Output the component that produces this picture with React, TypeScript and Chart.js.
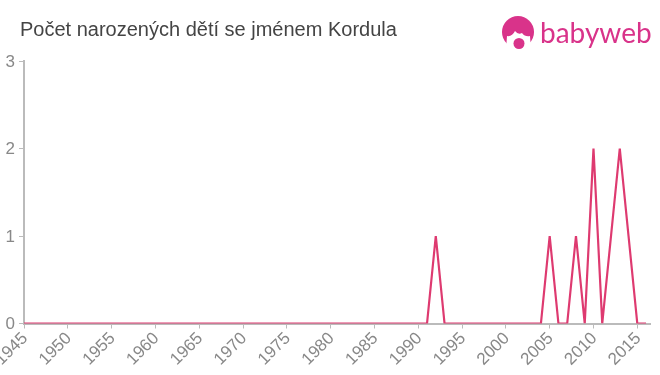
import React, { useEffect, useRef } from "react";
import { Chart, registerables } from "chart.js";

Chart.register(...registerables);

const years = [
  1945, 1946, 1947, 1948, 1949, 1950, 1951, 1952, 1953, 1954, 1955, 1956, 1957, 1958, 1959, 1960, 1961, 1962,
  1963, 1964, 1965, 1966, 1967, 1968, 1969, 1970, 1971, 1972, 1973, 1974, 1975, 1976, 1977, 1978, 1979, 1980,
  1981, 1982, 1983, 1984, 1985, 1986, 1987, 1988, 1989, 1990, 1991, 1992, 1993, 1994, 1995, 1996, 1997, 1998,
  1999, 2000, 2001, 2002, 2003, 2004, 2005, 2006, 2007, 2008, 2009, 2010, 2011, 2012, 2013, 2014, 2015, 2016,
];
const births = [
  0, 0, 0, 0, 0, 0, 0, 0, 0, 0, 0, 0, 0, 0, 0, 0, 0, 0,
  0, 0, 0, 0, 0, 0, 0, 0, 0, 0, 0, 0, 0, 0, 0, 0, 0, 0,
  0, 0, 0, 0, 0, 0, 0, 0, 0, 0, 0, 1, 0, 0, 0, 0, 0, 0,
  0, 0, 0, 0, 0, 0, 1, 0, 0, 1, 0, 2, 0, 1, 2, 1, 0, 0,
];
const xTicks = [1945, 1950, 1955, 1960, 1965, 1970, 1975, 1980, 1985, 1990, 1995, 2000, 2005, 2010, 2015];
const yTicks = [0, 1, 2, 3];
const titleText = "Počet narozených dětí se jménem Kordula";
const logoText = "babyweb";

const FONT = '"Liberation Sans", Arial, sans-serif';
const LINE = "#de3a70";
const AXIS = "#bbbbbb";
const LABEL = "#888888";
const PINK = "#d9338a";

const headerPlugin = {
  id: "header",
  afterDraw(chart: any) {
    const c = chart.ctx;
    c.save();
    c.fillStyle = "#444444";
    c.font = `20px ${FONT}`;
    c.textAlign = "left";
    c.textBaseline = "middle";
    c.fillText(titleText, 20, 30.5);

    c.fillStyle = PINK;
    c.beginPath();
    c.arc(518, 32, 16, 0, Math.PI * 2);
    c.fill();
    c.fillStyle = "#ffffff";
    c.beginPath();
    c.moveTo(506, 50);
    c.lineTo(507, 36);
    c.quadraticCurveTo(512, 37, 515, 31);
    c.quadraticCurveTo(518, 35, 522, 33);
    c.quadraticCurveTo(525, 37, 530, 36);
    c.lineTo(531, 50);
    c.closePath();
    c.fill();
    c.fillStyle = PINK;
    c.beginPath();
    c.arc(519, 43.5, 5.5, 0, Math.PI * 2);
    c.fill();

    c.font = `28px Lato, "Open Sans", sans-serif`;
    c.textBaseline = "alphabetic";
    c.fillText(logoText, 540, 43);
    c.restore();
  },
};

export default function App() {
  const ref = useRef<HTMLCanvasElement>(null);
  useEffect(() => {
    const chart = new Chart(ref.current!, {
      type: "line",
      data: {
        datasets: [
          {
            data: years.map((y, i) => ({ x: y, y: births[i] })),
            borderColor: LINE,
            borderWidth: 2.2,
            borderJoinStyle: "bevel",
            clip: { left: 5, right: 5, top: 5, bottom: 0 },
            pointRadius: 0,
            tension: 0,
            fill: false,
          },
        ],
      },
      plugins: [headerPlugin],
      options: {
        animation: false,
        responsive: false,
        events: [],
        layout: { padding: { top: 61, right: 10, left: 0, bottom: 0 } },
        plugins: { legend: { display: false }, title: { display: false }, tooltip: { enabled: false } },
        scales: {
          x: {
            type: "linear",
            min: 1945,
            max: 2016.45,
            afterBuildTicks(s: any) {
              s.ticks = xTicks.map((value) => ({ value }));
            },
            afterFit(s: any) {
              s.height = 51.5;
              s.paddingLeft = 0;
              s.paddingRight = 0;
            },
            grid: { drawOnChartArea: false, color: AXIS, tickLength: 5 },
            border: { color: AXIS, width: 2 },
            ticks: {
              color: LABEL,
              font: { family: FONT, size: 17 },
              minRotation: 45,
              maxRotation: 45,
              autoSkip: false,
              padding: 0,
              labelOffset: 1,
              callback: (v: any) => String(v),
            },
          },
          y: {
            min: 0,
            max: 3,
            afterBuildTicks(s: any) {
              s.ticks = yTicks.map((value) => ({ value }));
            },
            afterFit(s: any) {
              s.width = 24;
              s.paddingTop = 0;
              s.paddingBottom = 0;
            },
            grid: { drawOnChartArea: false, color: AXIS, tickLength: 5 },
            border: { color: AXIS, width: 2 },
            ticks: {
              color: LABEL,
              font: { family: FONT, size: 17 },
              padding: 4,
              labelOffset: 1,
              callback: (v: any) => String(v),
            },
          },
        },
      },
    } as any);
    return () => chart.destroy();
  }, []);
  return (
    <div style={{ position: "absolute", left: 0, top: 0, width: 660, height: 375 }}>
      <canvas ref={ref} width={660} height={375} style={{ display: "block" }} />
    </div>
  );
}
